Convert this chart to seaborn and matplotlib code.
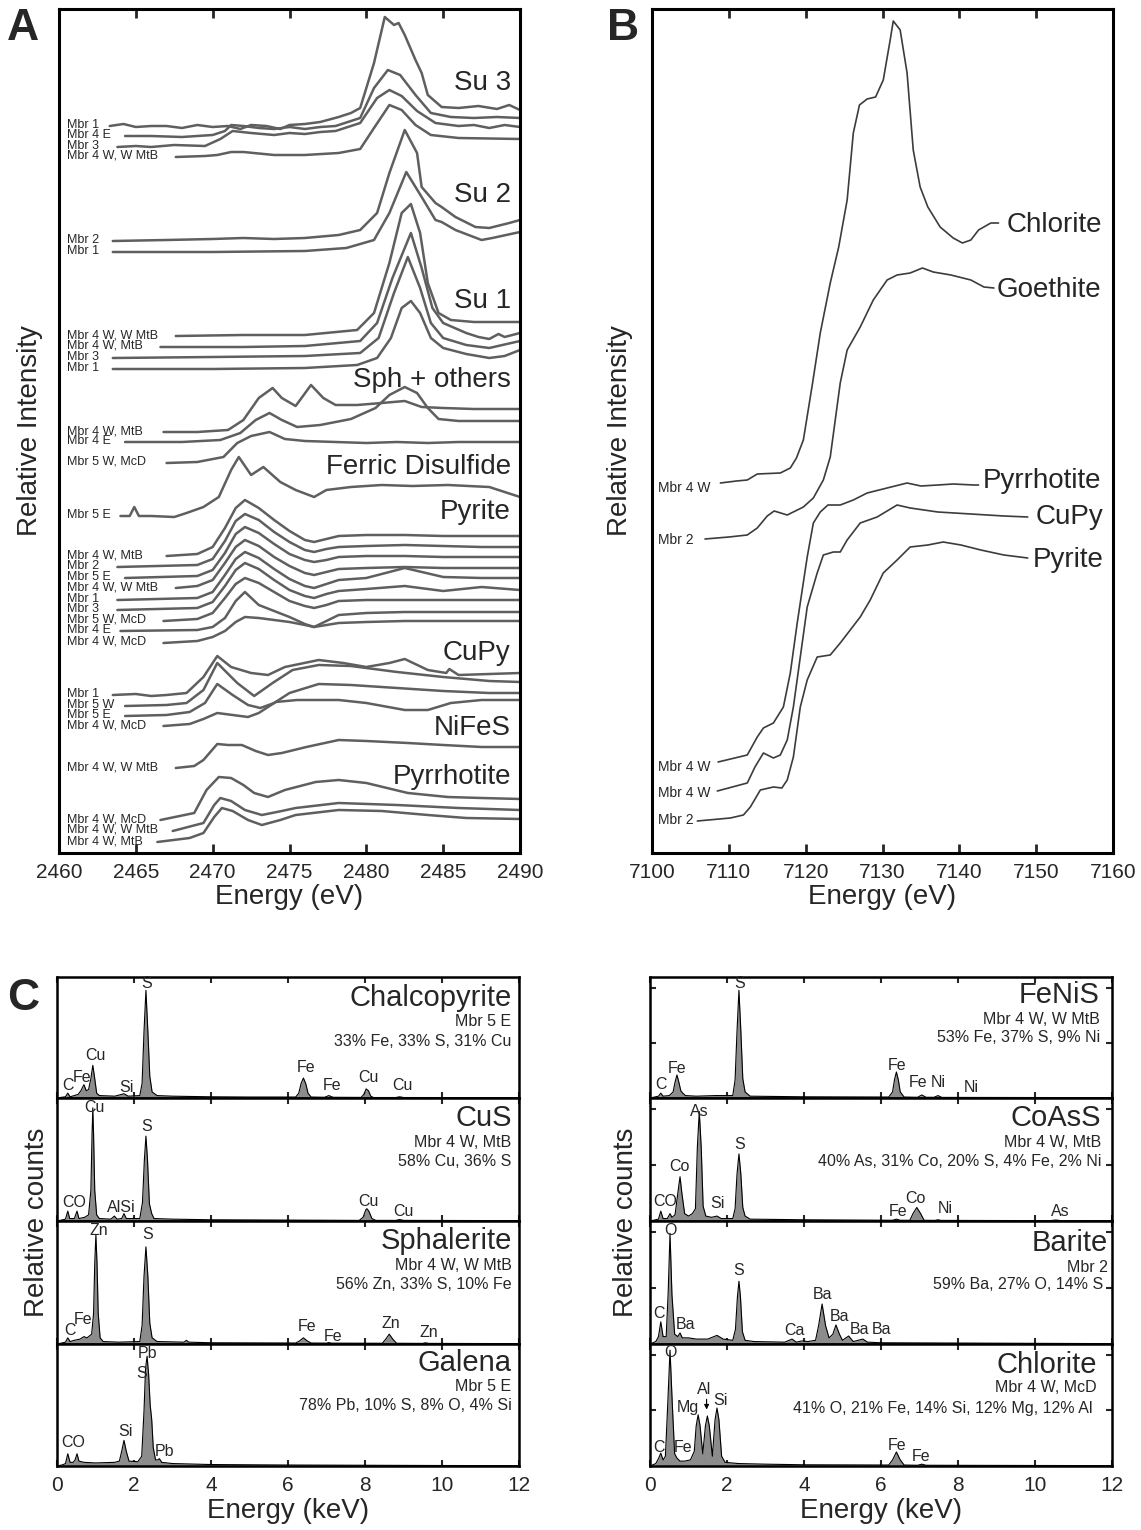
import numpy as np
import pandas as pd
import matplotlib
matplotlib.use("Agg")
import matplotlib.pyplot as plt
import seaborn as sns

sns.set_style("ticks")
plt.rcParams['font.family'] = ['Liberation Sans', 'DejaVu Sans']

# ---------------- Panel A: S K-edge XANES (energy eV, offset intensity) ----------------
SU3_LABELS = ["Mbr 1", "Mbr 4 E", "Mbr 3", "Mbr 4 W, W MtB"]
SU3_CURVES = [
    [(2463.3, 727), (2464.2, 729), (2465, 726), (2466, 727), (2467, 727), (2468, 725), (2469, 728),
     (2470, 726), (2471, 727), (2471.8, 724), (2472.5, 728), (2473.5, 727), (2474.4, 724), (2475, 728),
     (2476, 729), (2477, 731), (2478.2, 736), (2479, 740), (2479.6, 745), (2480.5, 790), (2481.2, 836),
     (2481.8, 828), (2482.1, 830), (2482.5, 818), (2483.2, 793), (2483.6, 780), (2484.0, 758),
     (2484.9, 746), (2486, 745), (2487.3, 747), (2488.5, 744), (2489.3, 748), (2490, 743)],
    [(2464.3, 717), (2466, 717), (2468, 716), (2470.0, 718), (2470.8, 722), (2471.2, 728), (2472, 727),
     (2473, 725), (2474, 724), (2475, 726), (2476, 724), (2477, 726), (2478, 727), (2479.6, 735),
     (2480.5, 765), (2481.4, 783), (2482.2, 778), (2483.2, 758), (2484.2, 740), (2485.5, 736),
     (2487, 735), (2488.5, 736), (2490, 735)],
    [(2463.8, 706), (2465, 707), (2466, 706), (2467.5, 708), (2469.5, 707), (2470.5, 714), (2471.3, 722),
     (2472.5, 720), (2474, 718), (2475, 720), (2476, 719), (2477, 721), (2478, 722), (2479.6, 730),
     (2480.7, 755), (2481.5, 763), (2482.3, 757), (2483.3, 742), (2484.5, 730), (2486, 727),
     (2487, 728), (2488, 725), (2489, 728), (2490, 726)],
    [(2467.6, 696), (2469.5, 697), (2470.3, 698), (2471.2, 701), (2472, 701), (2474, 698), (2476, 698),
     (2478.2, 700), (2479.6, 704), (2480.5, 725), (2481.5, 748), (2482.3, 743), (2483.2, 728),
     (2484.2, 718), (2486, 715), (2490, 714)],
]

SU2_LABELS = ["Mbr 2", "Mbr 1"]
SU2_CURVES = [
    [(2463.5, 612), (2467, 613), (2470, 614), (2472, 615), (2474, 614), (2476, 615), (2478.2, 618),
     (2479.6, 623), (2480.7, 640), (2481.5, 680), (2482.5, 723), (2483.3, 700), (2483.6, 666),
     (2484.5, 650), (2484.9, 646), (2485.8, 636), (2487.1, 626), (2488, 625), (2489.3, 630), (2490, 633)],
    [(2463.5, 601), (2470, 601), (2476, 602), (2478.7, 605), (2480.5, 613), (2481.5, 640), (2482.6, 681),
     (2483.6, 656), (2484.5, 633), (2484.9, 631), (2485.8, 623), (2487.5, 613), (2488.2, 615), (2490, 621)],
]

SU1_LABELS = ["Mbr 4 W, W MtB", "Mbr 4 W, MtB", "Mbr 3", "Mbr 1"]
SU1_CURVES = [
    [(2467.6, 517), (2472, 518), (2476, 518), (2479.4, 523), (2480.5, 540), (2481.5, 590), (2482.3, 640),
     (2482.9, 649), (2483.5, 620), (2484.0, 570), (2484.7, 540), (2485.5, 533), (2487, 531), (2490, 531)],
    [(2466.6, 506), (2472, 506), (2476, 507), (2479.6, 512), (2480.7, 530), (2481.7, 575), (2482.9, 620),
     (2483.6, 585), (2484.3, 545), (2485, 530), (2486.5, 520), (2487.3, 516), (2488, 514), (2488.6, 519),
     (2489, 516), (2490, 520)],
    [(2463.5, 495), (2470, 496), (2476, 497), (2479.6, 500), (2480.8, 515), (2481.8, 560), (2482.7, 596),
     (2483.5, 565), (2484.2, 530), (2485, 515), (2486.5, 508), (2488, 505), (2490, 512)],
    [(2463.5, 484), (2470, 484), (2476, 485), (2479.4, 488), (2480.7, 495), (2481.6, 515), (2482.3, 545),
     (2482.9, 552), (2483.5, 540), (2484.2, 515), (2485.0, 505), (2486.5, 499), (2488, 495), (2489, 497),
     (2490, 503)],
]

SPH_LABELS = ["Mbr 4 W, MtB", "Mbr 4 E", "Mbr 5 W, McD"]
SPH_CURVES = [
    [(2466.8, 421), (2469, 421), (2471.0, 423), (2472.0, 433), (2473.0, 455), (2473.9, 465), (2474.5, 455),
     (2475.4, 447), (2476.4, 468), (2477.2, 455), (2478.0, 448), (2479.4, 448), (2481, 450), (2482.5, 452),
     (2483.6, 446), (2485, 445), (2487, 444), (2490, 444)],
    [(2464.3, 411), (2468, 411), (2470.5, 413), (2471.8, 420), (2472.8, 433), (2473.7, 440), (2474.5, 433),
     (2475.5, 426), (2477, 428), (2479, 434), (2480.6, 445), (2481.5, 458), (2482.5, 466), (2483.3, 460),
     (2484.0, 445), (2484.7, 434), (2486, 432), (2490, 432)],
    [(2467, 390), (2469, 391), (2470.7, 396), (2471.6, 410), (2472.5, 417), (2473.7, 421), (2474.7, 414),
     (2476, 412), (2478, 411), (2480, 410), (2482, 411), (2484, 410), (2486, 411), (2490, 411)],
]

FERRIC_LABELS = ["Mbr 5 E"]
FERRIC_CURVES = [
    [(2464.0, 337), (2464.6, 337), (2464.9, 346), (2465.2, 337), (2466, 337), (2467.5, 336), (2468.3, 340),
     (2469.4, 346), (2470.4, 356), (2471.2, 383), (2471.7, 396), (2472.5, 378), (2473.3, 386), (2474.4, 371),
     (2475.4, 363), (2476.6, 356), (2477.4, 363), (2479, 366), (2481, 368), (2483, 367), (2485.3, 368),
     (2488, 366), (2490, 356)],
]

PYRITE_LABELS = ["Mbr 4 W, MtB", "Mbr 2", "Mbr 5 E", "Mbr 4 W, W MtB", "Mbr 1", "Mbr 3",
                 "Mbr 5 W, McD", "Mbr 4 E", "Mbr 4 W, McD"]
PYRITE_START = [2467.0, 2463.8, 2464.3, 2467.6, 2463.8, 2463.8, 2466.8, 2464.0, 2466.8]
PYRITE_GRID = [2469.0, 2470.0, 2470.8, 2471.5, 2472.1, 2473.0, 2474.0, 2475.0, 2476.0, 2476.6,
               2477.4, 2478.2, 2480.0, 2482.5, 2485.0, 2487.5, 2490.0]
PYRITE_Y = [
    [297, 299, 306, 325, 345, 353, 345, 333, 322, 313, 311, 314, 317, 318, 318, 317, 317, 317],
    [286, 288, 294, 312, 332, 339, 333, 321, 311, 303, 301, 304, 306, 307, 308, 307, 306, 306],
    [275, 277, 283, 300, 319, 326, 320, 309, 299, 293, 291, 293, 296, 297, 297, 296, 296, 296],
    [265, 267, 273, 290, 306, 313, 307, 296, 287, 280, 278, 281, 284, 285, 286, 285, 285, 285],
    [253, 255, 261, 278, 294, 301, 295, 284, 274, 267, 265, 269, 273, 275, 285, 276, 275, 275],
    [243, 245, 251, 267, 283, 290, 284, 273, 263, 257, 255, 259, 262, 264, 267, 262, 266, 263],
    [232, 234, 240, 255, 269, 275, 270, 261, 252, 247, 245, 248, 252, 253, 253, 253, 253, 253],
    [222, 223, 226, 235, 252, 261, 248, 242, 236, 229, 226, 232, 238, 240, 241, 241, 241, 241],
    [210, 212, 216, 222, 231, 236, 235, 233, 231, 228, 226, 228, 230, 231, 232, 232, 232, 232],
]
PYRITE_CURVES = [list(zip([s] + PYRITE_GRID, ys)) for s, ys in zip(PYRITE_START, PYRITE_Y)]

CUPY_LABELS = ["Mbr 1", "Mbr 5 W", "Mbr 5 E", "Mbr 4 W, McD"]
CUPY_CURVES = [
    [(2463.5, 158), (2465, 159), (2466, 157), (2467, 158), (2468.3, 160), (2469.4, 176), (2470.3, 197),
     (2471.2, 186), (2472.5, 180), (2473.6, 178), (2474.7, 186), (2476.9, 193), (2478.5, 190), (2480, 186),
     (2481.5, 190), (2482.5, 194), (2484.0, 183), (2485.2, 180), (2485.4, 184), (2486.0, 178),
     (2488, 179), (2490, 180)],
    [(2464.3, 147), (2467, 148), (2468.3, 150), (2469.4, 163), (2470.3, 190), (2471.6, 170), (2472.7, 157),
     (2473.9, 170), (2475.2, 183), (2476.9, 188), (2479, 187), (2482, 181), (2485, 176), (2488, 172),
     (2490, 171)],
    [(2464.3, 137), (2467, 138), (2468.5, 141), (2469.5, 150), (2470.3, 169), (2471.3, 158), (2472.3, 148),
     (2473.1, 145), (2474.0, 150), (2475.0, 160), (2476.9, 169), (2479, 168), (2482, 165), (2485, 162),
     (2488, 160), (2490, 160)],
    [(2466.8, 127), (2468.5, 129), (2469.4, 134), (2470.3, 140), (2471.3, 138), (2472.3, 136), (2473.0, 140),
     (2474.1, 151), (2475.5, 153), (2478.2, 153), (2480, 150), (2482.5, 143), (2484, 143), (2485.5, 150),
     (2487.5, 153), (2490, 153)],
]

NIFES_LABELS = ["Mbr 4 W, W MtB"]
NIFES_CURVES = [
    [(2467.6, 85), (2468.8, 87), (2469.4, 93), (2470.3, 109), (2471.0, 108), (2471.9, 108), (2472.8, 102),
     (2473.6, 98), (2474.5, 100), (2476.1, 106), (2478.2, 113), (2480, 112), (2482.7, 110), (2485, 108),
     (2487.5, 106), (2490, 106)],
]

PYRR_LABELS = ["Mbr 4 W, McD", "Mbr 4 W, W MtB", "Mbr 4 W, MtB"]
PYRR_CURVES = [
    [(2466.6, 33), (2468.8, 40), (2469.6, 63), (2470.4, 76), (2471.2, 75), (2472.0, 68), (2472.7, 60),
     (2473.6, 56), (2474.7, 63), (2476.7, 71), (2478.2, 73), (2480, 70), (2482.7, 60), (2485.3, 56),
     (2487.5, 55), (2490, 54)],
    [(2467.4, 22), (2469.4, 30), (2470.1, 48), (2470.5, 55), (2471.2, 52), (2472.1, 43), (2473.2, 38),
     (2474.5, 42), (2475.4, 45), (2478.2, 50), (2482, 48), (2486, 45), (2490, 43)],
    [(2466.4, 11), (2468.5, 15), (2469.4, 20), (2470.1, 36), (2470.6, 45), (2471.3, 42), (2472.3, 33),
     (2473.2, 28), (2474.4, 33), (2475.4, 38), (2478.2, 43), (2481, 42), (2484, 38), (2486.5, 35),
     (2490, 34)],
]

GROUP_TITLES = ["Su 3", "Su 2", "Su 1", "Sph + others", "Ferric Disulfide", "Pyrite", "CuPy",
                "NiFeS", "Pyrrhotite"]
GROUP_TITLE_Y = [770, 658, 552, 473, 386, 341, 200, 125, 76]

# ---------------- Panel B: Fe K-edge XANES ----------------
B_NAMES = ["Chlorite", "Goethite", "Pyrrhotite", "CuPy", "Pyrite"]
B_SAMPLES = ["Mbr 4 W", "Mbr 2", "Mbr 4 W", "Mbr 4 W", "Mbr 2"]
CHLORITE_B = [(7108.9, 370), (7111.0, 372), (7112.4, 373), (7113.7, 379), (7116.7, 380), (7118.0, 385),
              (7118.8, 395), (7119.7, 413), (7120.9, 470), (7121.9, 520), (7123.2, 570), (7124.3, 606),
              (7125.4, 653), (7126.2, 720), (7127.0, 748), (7128.0, 754), (7129.1, 756), (7130.1, 773),
              (7131.0, 813), (7131.4, 832), (7132.3, 823), (7133.2, 780), (7134.0, 703), (7134.9, 666),
              (7135.9, 646), (7137.5, 626), (7139.2, 615), (7140.4, 610), (7141.5, 613), (7142.5, 623),
              (7144.1, 630), (7145.1, 630)]
GOETHITE_B = [(7106.9, 314), (7110, 316), (7112.4, 318), (7113.7, 325), (7115.0, 337), (7115.9, 342),
              (7117.6, 338), (7119.7, 346), (7121.0, 355), (7122.3, 373), (7123.2, 396), (7124.5, 470),
              (7125.4, 503), (7127.1, 526), (7128.8, 553), (7130.6, 573), (7131.9, 578), (7133.6, 580),
              (7135.2, 585), (7136.6, 581), (7138.9, 578), (7141.5, 573), (7143.2, 566), (7144.5, 565)]
PYRRHOTITE_B = [(7108.6, 91), (7112.4, 98), (7113.7, 116), (7114.5, 125), (7115.8, 130), (7117.1, 146),
                (7118.0, 180), (7118.9, 230), (7120.2, 296), (7121.0, 330), (7121.9, 341), (7122.9, 348),
                (7124.5, 348), (7126.2, 353), (7128.0, 360), (7130.6, 365), (7133.2, 370), (7135.0, 367),
                (7137.2, 368), (7139.2, 369), (7141.9, 368), (7142.5, 368)]
CUPY_B = [(7108.5, 62), (7112.4, 70), (7113.4, 86), (7114.5, 100), (7115.8, 95), (7116.7, 98),
          (7117.6, 113), (7118.4, 146), (7119.3, 196), (7120.2, 246), (7121.5, 280), (7122.3, 298),
          (7123.6, 301), (7124.5, 301), (7125.4, 313), (7127.1, 330), (7129.3, 336), (7131.9, 348),
          (7133.6, 345), (7137.2, 341), (7141.5, 339), (7145.8, 337), (7148.9, 336)]
PYRITE_B = [(7105.9, 32), (7110.2, 35), (7111.9, 38), (7112.8, 46), (7114.1, 63), (7115.8, 66),
            (7116.9, 65), (7117.6, 73), (7118.4, 96), (7119.3, 146), (7120.2, 173), (7121.5, 196),
            (7123.2, 198), (7124.5, 210), (7125.8, 223), (7127.1, 236), (7128.4, 253), (7130.1, 280),
            (7131.9, 293), (7133.6, 306), (7135.9, 308), (7137.9, 311), (7140.2, 308), (7142.8, 303),
            (7145.8, 298), (7148.9, 295)]

# ---------------- Panel C: EDS spectra (keV, % of panel height) ----------------
CHALCO = [(0, 0), (0.1, 0.5), (0.22, 1), (0.28, 4), (0.34, 1), (0.45, 2), (0.55, 3), (0.62, 6), (0.70, 11),
          (0.76, 6), (0.82, 7), (0.88, 16), (0.93, 27), (0.98, 16), (1.03, 4), (1.1, 2), (1.5, 1.5),
          (1.74, 3.5), (1.85, 1.5), (2.15, 2), (2.21, 12), (2.26, 55), (2.31, 89), (2.36, 55), (2.41, 18),
          (2.47, 5), (2.6, 2), (3.0, 1.5), (4.0, 1), (5.0, 0.8), (6.2, 0.8), (6.28, 4), (6.34, 12),
          (6.40, 16.5), (6.46, 12), (6.52, 4), (6.6, 0.8), (6.95, 0.6), (7.06, 2), (7.17, 0.6), (7.9, 0.5),
          (7.97, 3), (8.03, 7.5), (8.09, 6), (8.15, 1.5), (8.22, 0.4), (8.8, 0.4), (8.9, 1), (9.0, 0.4),
          (12, 0.3)]
CUS = [(0, 0), (0.15, 1), (0.22, 1.5), (0.28, 8), (0.33, 2), (0.45, 2), (0.52, 8), (0.57, 2), (0.72, 3),
       (0.82, 5), (0.88, 25), (0.91, 70), (0.93, 92), (0.95, 70), (0.98, 25), (1.03, 5), (1.1, 2), (1.4, 1.5),
       (1.49, 4), (1.56, 1.5), (1.68, 2), (1.74, 6), (1.80, 2), (2.15, 2), (2.22, 15), (2.27, 50),
       (2.31, 69), (2.35, 50), (2.40, 14), (2.46, 6), (2.52, 2), (3, 1.5), (4, 1), (7.85, 0.5), (7.95, 3),
       (8.02, 9), (8.05, 10), (8.10, 8), (8.18, 2), (8.28, 0.5), (8.8, 0.5), (8.9, 1.2), (9.0, 0.5),
       (12, 0.3)]
SPHAL = [(0, 0), (0.15, 1), (0.22, 1.5), (0.28, 5), (0.34, 2), (0.45, 3), (0.6, 4), (0.7, 6), (0.78, 5),
         (0.9, 8), (0.95, 25), (0.98, 65), (1.01, 89), (1.04, 65), (1.07, 25), (1.12, 5), (1.2, 2),
         (1.6, 1.5), (2.15, 2), (2.21, 15), (2.26, 55), (2.31, 79), (2.36, 55), (2.41, 17), (2.47, 5),
         (2.6, 2), (3.3, 1.5), (3.36, 3), (3.42, 1.5), (4, 1), (6.2, 0.8), (6.3, 2.5), (6.40, 5), (6.5, 2.5),
         (6.6, 0.8), (7.0, 0.7), (7.06, 1.2), (7.12, 0.7), (8.45, 0.6), (8.54, 4), (8.63, 8), (8.72, 4),
         (8.82, 0.6), (9.5, 0.5), (9.57, 1), (9.65, 0.5), (12, 0.3)]
GALENA = [(0, 0), (0.15, 1), (0.22, 2), (0.28, 10), (0.34, 3), (0.42, 3), (0.47, 5), (0.52, 10), (0.57, 4),
          (0.7, 3), (1.0, 2.5), (1.5, 3), (1.62, 4), (1.68, 12), (1.74, 21), (1.80, 12), (1.87, 4),
          (2.1, 3.5), (2.2, 8), (2.26, 45), (2.30, 80), (2.34, 90), (2.38, 75), (2.42, 50), (2.46, 38),
          (2.50, 15), (2.56, 5), (2.62, 5), (2.66, 6), (2.72, 3), (3.0, 2), (4, 1.2), (6, 0.8), (8, 0.6),
          (10, 0.4), (12, 0.3)]
FENIS = [(0, 0), (0.15, 1), (0.22, 1.5), (0.28, 4), (0.34, 1.5), (0.5, 2), (0.6, 5), (0.65, 13), (0.70, 19),
         (0.75, 13), (0.80, 6), (0.85, 4), (0.92, 2), (1.2, 1.5), (1.7, 2), (2.15, 2), (2.21, 15), (2.26, 55),
         (2.31, 89), (2.36, 55), (2.41, 16), (2.47, 5), (2.6, 1.5), (4.0, 1), (6.2, 0.8), (6.3, 5),
         (6.35, 15), (6.40, 21.5), (6.45, 15), (6.5, 5), (6.6, 0.8), (6.95, 0.6), (7.06, 2.5), (7.17, 0.6),
         (7.38, 0.6), (7.48, 2), (7.58, 0.5), (12, 0.3)]
COASS = [(0, 0), (0.15, 1), (0.22, 1.5), (0.28, 8), (0.34, 2), (0.45, 2), (0.52, 6), (0.57, 3), (0.65, 5),
         (0.72, 22), (0.78, 36), (0.83, 22), (0.9, 6), (1.0, 4), (1.1, 6), (1.18, 10), (1.23, 60),
         (1.28, 89), (1.33, 60), (1.38, 12), (1.45, 4), (1.6, 3), (1.74, 4), (1.85, 2), (2.15, 2),
         (2.21, 10), (2.26, 38), (2.31, 54.5), (2.36, 38), (2.41, 11), (2.47, 4), (2.6, 1.5), (4, 1),
         (6.3, 0.6), (6.40, 1.5), (6.5, 0.6), (6.75, 0.6), (6.83, 6), (6.93, 11), (7.03, 6), (7.12, 0.6),
         (7.4, 0.5), (7.48, 1), (7.56, 0.5), (10.4, 0.3), (10.54, 0.8), (10.68, 0.3), (12, 0.2)]
BARITE = [(0, 0), (0.15, 2), (0.22, 6), (0.28, 18), (0.34, 6), (0.42, 6), (0.47, 40), (0.52, 90), (0.57, 40),
          (0.64, 8), (0.72, 6), (0.78, 9), (0.84, 5), (1.0, 5), (1.2, 4), (1.5, 4), (1.74, 7), (1.9, 4),
          (2.15, 3), (2.22, 12), (2.27, 38), (2.31, 51), (2.35, 38), (2.40, 10), (2.47, 3), (2.7, 2),
          (3.5, 1.5), (3.69, 4), (3.8, 1.5), (3.95, 2.5), (4.1, 2), (4.3, 3), (4.38, 15), (4.47, 32.5),
          (4.56, 15), (4.65, 5), (4.75, 8), (4.83, 15.5), (4.92, 8), (5.0, 3), (5.16, 6.5), (5.28, 2),
          (5.53, 4), (5.65, 1.5), (6.0, 1), (12, 0.3)]
CHLOR = [(0, 0), (0.15, 2), (0.22, 6), (0.28, 10.5), (0.34, 5), (0.40, 8), (0.46, 50), (0.52, 95), (0.58, 50),
         (0.64, 10), (0.70, 6.5), (0.78, 4), (0.9, 4), (1.05, 5), (1.15, 12), (1.20, 33), (1.25, 42),
         (1.30, 33), (1.37, 10), (1.44, 33), (1.49, 41), (1.54, 33), (1.62, 8), (1.69, 38), (1.74, 47.5),
         (1.79, 38), (1.86, 8), (1.95, 3), (2.3, 2), (3, 1.5), (4, 1), (6.2, 0.8), (6.3, 5), (6.40, 11.5),
         (6.5, 5), (6.6, 0.8), (6.95, 0.6), (7.06, 1.5), (7.17, 0.6), (12, 0.3)]

EDS_MINERALS = ["Chalcopyrite", "CuS", "Sphalerite", "Galena", "FeNiS", "CoAsS", "Barite", "Chlorite"]
EDS_SAMPLES = ["Mbr 5 E", "Mbr 4 W, MtB", "Mbr 4 W, W MtB", "Mbr 5 E",
               "Mbr 4 W, W MtB", "Mbr 4 W, MtB", "Mbr 2", "Mbr 4 W, McD"]
EDS_COMPOSITION = ["33% Fe, 33% S, 31% Cu", "58% Cu, 36% S", "56% Zn, 33% S, 10% Fe",
                   "78% Pb, 10% S, 8% O, 4% Si", "53% Fe, 37% S, 9% Ni",
                   "40% As, 31% Co, 20% S, 4% Fe, 2% Ni", "59% Ba, 27% O, 14% S",
                   "41% O, 21% Fe, 14% Si, 12% Mg, 12% Al"]
EDS_SPECTRA = [CHALCO, CUS, SPHAL, GALENA, FENIS, COASS, BARITE, CHLOR]
EDS_PEAK_LABELS = [
    [("C", 0.29, 10), ("Fe", 0.64, 17), ("Cu", 0.99, 35), ("Si", 1.81, 9), ("S", 2.34, 95),
     ("Fe", 6.48, 25.5), ("Fe", 7.15, 10), ("Cu", 8.09, 17), ("Cu", 8.97, 10)],
    [("Cu", 0.97, 92), ("S", 2.34, 77), ("CO", 0.44, 15), ("AlSi", 1.67, 11), ("Cu", 8.1, 16),
     ("Cu", 9.0, 8)],
    [("Zn", 1.08, 92), ("S", 2.35, 89), ("C", 0.33, 11), ("Fe", 0.68, 20), ("Fe", 6.5, 14),
     ("Fe", 7.17, 6), ("Zn", 8.67, 17), ("Zn", 9.65, 9)],
    [("Pb", 2.36, 92), ("S", 2.19, 76), ("Si", 1.77, 28.5), ("CO", 0.43, 19), ("Pb", 2.78, 12)],
    [("S", 2.32, 95), ("C", 0.28, 11.5), ("Fe", 0.70, 24), ("Fe", 6.43, 26.5), ("Fe", 6.97, 13),
     ("Ni", 7.5, 13), ("Ni", 8.34, 9)],
    [("As", 1.29, 89), ("S", 2.32, 62.5), ("Co", 0.77, 44), ("CO", 0.39, 16), ("Si", 1.75, 14),
     ("Fe", 6.44, 8), ("Co", 6.9, 18), ("Ni", 7.68, 10.5), ("As", 10.65, 8)],
    [("O", 0.53, 92), ("C", 0.23, 25), ("Ba", 0.91, 15.5), ("S", 2.29, 60), ("Ca", 3.74, 11),
     ("Ba", 4.47, 40), ("Ba", 4.92, 22), ("Ba", 5.44, 12), ("Ba", 6.02, 12)],
    [("O", 0.52, 93), ("C", 0.23, 15), ("Fe", 0.86, 15), ("Mg", 0.99, 48), ("Al", 1.40, 63),
     ("Si", 1.84, 54), ("Fe", 6.41, 17), ("Fe", 7.03, 7.5)],
]

# ---------------- layout (pixels of the 1141 x 1530 canvas) ----------------
W, H = 1141, 1530
fig = plt.figure(figsize=(W / 100, H / 100), dpi=100)


def px_axes(left, top, right, bottom):
    return fig.add_axes([left / W, 1 - bottom / H, (right - left) / W, (bottom - top) / H])


def line(ax, pts, color, lw):
    e, v = zip(*pts)
    sns.lineplot(x=list(e), y=list(v), ax=ax, color=color, linewidth=lw, sort=False, estimator=None)


def frame(ax, lw):
    for s in ax.spines.values():
        s.set_visible(True)
        s.set_linewidth(lw)
        s.set_color("black")


# ---- Panel A ----
axA = px_axes(59, 9, 520, 853)
GROUPS = [(SU3_LABELS, SU3_CURVES), (SU2_LABELS, SU2_CURVES), (SU1_LABELS, SU1_CURVES),
          (SPH_LABELS, SPH_CURVES), (FERRIC_LABELS, FERRIC_CURVES), (PYRITE_LABELS, PYRITE_CURVES),
          (CUPY_LABELS, CUPY_CURVES), (NIFES_LABELS, NIFES_CURVES), (PYRR_LABELS, PYRR_CURVES)]
for labels, curves in GROUPS:
    for lab, c in zip(labels, curves):
        line(axA, c, "#5f5f5f", 1.8)
        axA.text(2460.55, c[0][1] + 1, lab, fontsize=9, ha="left", va="center")
for t, y in zip(GROUP_TITLES, GROUP_TITLE_Y):
    axA.text(2489.4, y, t, fontsize=20, ha="right", va="center")
axA.set_xlim(2460, 2490)
axA.set_ylim(0, 844)
axA.set_xticks(range(2460, 2491, 5))
axA.set_yticks([])
axA.tick_params(axis="x", direction="in", top=True, length=6.5, width=2, labelsize=15, pad=7)
axA.set_xlabel("Energy (eV)", fontsize=20, labelpad=2)
axA.set_ylabel("Relative Intensity", fontsize=20)
axA.yaxis.set_label_coords(-0.035, 0.5)
frame(axA, 2.2)

# ---- Panel B ----
axB = px_axes(652, 9, 1113, 853)
B_CURVES = [CHLORITE_B, GOETHITE_B, PYRRHOTITE_B, CUPY_B, PYRITE_B]
B_NAME_POS = [(7146.2, 628), (7144.9, 563), (7143.1, 372), (7149.9, 336), (7149.5, 293)]
B_SAMPLE_Y = [365, 313, 86, 60, 33]
for c, name, (nx, ny), samp, sy in zip(B_CURVES, B_NAMES, B_NAME_POS, B_SAMPLES, B_SAMPLE_Y):
    line(axB, c, "#3c3c3c", 1.2)
    axB.text(nx, ny, name, fontsize=20, ha="left", va="center")
    axB.text(7100.8, sy, samp, fontsize=10, ha="left", va="center")
axB.set_xlim(7100, 7160)
axB.set_ylim(0, 844)
axB.set_xticks(range(7100, 7161, 10))
axB.set_yticks([])
axB.tick_params(axis="x", direction="in", top=True, length=6.5, width=2, labelsize=15, pad=7)
axB.set_xlabel("Energy (eV)", fontsize=20, labelpad=2)
axB.set_ylabel("Relative Intensity", fontsize=20)
axB.yaxis.set_label_coords(-0.041, 0.5)
frame(axB, 2.2)

# ---- Panel C ----
ROW_EDGES = [977, 1098, 1221, 1344, 1466]
COLS = [(57, 519), (650, 1112)]
TITLE_X = [0.984, 0.984, 0.984, 0.984, 0.974, 0.976, 0.99, 0.967]
COMP_X = [0.984, 0.984, 0.984, 0.984, 0.974, 0.976, 0.98, 0.958]
TITLE_Y = [(0.83, 0.63, 0.47), (0.84, 0.64, 0.48), (0.84, 0.64, 0.48), (0.845, 0.65, 0.50),
           (0.85, 0.645, 0.50), (0.84, 0.64, 0.48), (0.82, 0.625, 0.48), (0.83, 0.64, 0.475)]
for k in range(8):
    col, row = divmod(k, 4)
    l, r = COLS[col]
    ax = px_axes(l, ROW_EDGES[row], r, ROW_EDGES[row + 1])
    e, v = map(np.array, zip(*EDS_SPECTRA[k]))
    ax.fill_between(e, 0, v, color="#8c8c8c", lw=0)
    sns.lineplot(x=e, y=v, ax=ax, color="black", linewidth=0.8, sort=False, estimator=None)
    for txt, xx, yy in EDS_PEAK_LABELS[k]:
        ax.text(xx, yy, txt, fontsize=11.5, ha="center", va="center")
    ty, sy, cy = TITLE_Y[k]
    ax.text(TITLE_X[k], ty, EDS_MINERALS[k], transform=ax.transAxes, fontsize=21, ha="right", va="center")
    ax.text(TITLE_X[k], sy, EDS_SAMPLES[k], transform=ax.transAxes, fontsize=11.5, ha="right", va="center")
    ax.text(COMP_X[k], cy, EDS_COMPOSITION[k], transform=ax.transAxes, fontsize=11.5, ha="right",
            va="center")
    if k == 7:
        ax.annotate("", xy=(1.47, 44), xytext=(1.47, 57),
                    arrowprops=dict(arrowstyle="-|>", color="black", lw=0.8, mutation_scale=7))
    ax.set_xlim(0, 12)
    ax.set_ylim(0, 100)
    ax.set_xticks(range(0, 13, 2))
    ax.tick_params(axis="x", direction="in", top=True, length=4, width=1.5, labelsize=15, pad=7)
    if col == 1:
        ax.set_yticks([45.5, 91])
        ax.set_yticklabels([])
        ax.tick_params(axis="y", direction="in", left=True, right=True, length=4, width=1.5)
    else:
        ax.set_yticks([])
    if row < 3:
        ax.set_xticklabels([])
    else:
        ax.set_xlabel("Energy (keV)", fontsize=20, labelpad=2)
    ax.set_ylabel("")
    frame(ax, 1.8)

fig.text(37 / W, 1 - 1222 / H, "Relative counts", rotation=90, fontsize=20, ha="center", va="center")
fig.text(626 / W, 1 - 1222 / H, "Relative counts", rotation=90, fontsize=20, ha="center", va="center")

# panel letters
fig.text(23 / W, 1 - 29 / H, "A", fontsize=32, fontweight="bold", ha="center", va="center")
fig.text(623 / W, 1 - 29 / H, "B", fontsize=32, fontweight="bold", ha="center", va="center")
fig.text(23 / W, 1 - 998 / H, "C", fontsize=32, fontweight="bold", ha="center", va="center")

fig.savefig("out.png", dpi=100)
